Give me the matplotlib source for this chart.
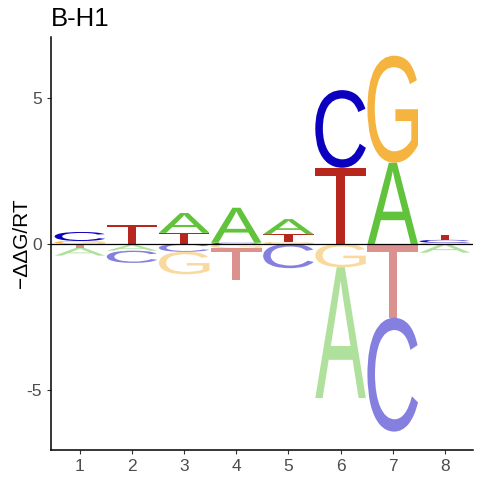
import numpy as np
import matplotlib
matplotlib.use("Agg")
import matplotlib.pyplot as plt
from matplotlib.textpath import TextPath
from matplotlib.patches import PathPatch
from matplotlib.font_manager import FontProperties
from matplotlib.transforms import Affine2D

# energy contribution of each base at each position (-ddG/RT)
positions = [1, 2, 3, 4, 5, 6, 7, 8]
bases = ['A', 'C', 'G', 'T']
A_vals = [-0.27, -0.20, 0.68, 1.20, 0.52, -4.48, 2.78, -0.30]
C_vals = [0.31, -0.42, -0.27, 0.04, -0.83, 2.66, -3.90, 0.10]
G_vals = [0.10, -0.03, -0.77, -0.15, 0.06, -0.80, 3.67, 0.04]
T_vals = [-0.13, 0.65, 0.38, -1.09, 0.27, 2.61, -2.53, 0.17]

colors = {'A': '#61C33B', 'C': '#0C00C0', 'G': '#F5B43F', 'T': '#B8271E'}

fp = FontProperties(family='Liberation Sans')
glyphs = {}
for b in bases:
    p = TextPath((0, 0), b, size=1, prop=fp)
    ext = p.get_extents()
    glyphs[b] = (p, ext)


def draw_letter(ax, base, x, y0, h, alpha):
    p, ext = glyphs[base]
    w = 0.97
    t = (Affine2D()
         .translate(-ext.x0, -ext.y0)
         .scale(w / ext.width, h / ext.height)
         .translate(x - w / 2, y0))
    patch = PathPatch(t.transform_path(p), facecolor=colors[base],
                      edgecolor='none', alpha=alpha)
    ax.add_patch(patch)


fig = plt.figure(figsize=(4.8, 4.8), dpi=100)
ax = fig.add_axes([50.7 / 480, 29.7 / 480, (473 - 50.7) / 480, (450.3 - 37) / 480])

table = {'A': A_vals, 'C': C_vals, 'G': G_vals, 'T': T_vals}
for i, x in enumerate(positions):
    vals = [(b, table[b][i]) for b in bases]
    pos = sorted([v for v in vals if v[1] > 0], key=lambda v: v[1])
    neg = sorted([v for v in vals if v[1] < 0], key=lambda v: -v[1])
    y = 0
    for b, v in pos:
        draw_letter(ax, b, x, y, v, 1.0)
        y += v
    y = 0
    for b, v in neg:
        draw_letter(ax, b, x, y + v, -v, 0.5)
        y += v

ax.axhline(0, color='black', lw=0.9)
ax.set_xlim(0.44, 8.54)
ax.set_ylim(-7.07, 7.09)
ax.set_xticks(positions)
ax.set_yticks([-5, 0, 5])
ax.set_yticklabels(['-5', '0', '5'])
for s in ['top', 'right']:
    ax.spines[s].set_visible(False)
for s in ['left', 'bottom']:
    ax.spines[s].set_linewidth(1.1)
ax.tick_params(length=2.7, width=0.8, color='#333333', labelcolor='#4D4D4D',
               labelsize=12.5, labelfontfamily='Liberation Sans')
ax.set_ylabel('\u2212\u0394\u0394G/RT', fontsize=15, family='Liberation Sans', labelpad=-3)
ax.set_title('B-H1', loc='left', fontsize=18.5, family='Liberation Sans', pad=8)

fig.savefig('out.png', dpi=100)
